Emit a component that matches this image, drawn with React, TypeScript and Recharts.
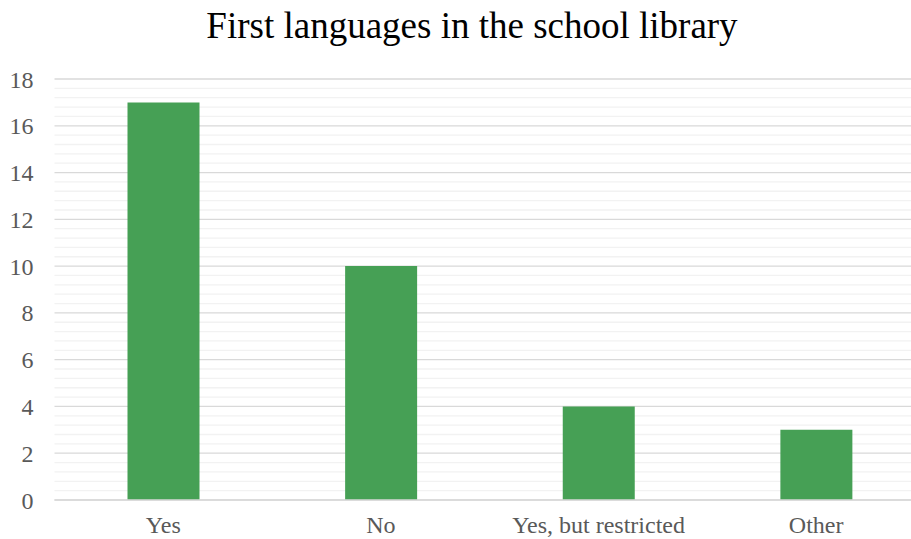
import React from "react";
import { BarChart, Bar, XAxis, YAxis, CartesianGrid } from "recharts";

const categories = ["Yes", "No", "Yes, but restricted", "Other"];
const counts = [17, 10, 4, 3];
const majorTicks = [0, 2, 4, 6, 8, 10, 12, 14, 16, 18];
const minorTicks = [
  0.4, 0.8, 1.2, 1.6, 2.4, 2.8, 3.2, 3.6, 4.4, 4.8, 5.2, 5.6, 6.4, 6.8, 7.2, 7.6,
  8.4, 8.8, 9.2, 9.6, 10.4, 10.8, 11.2, 11.6, 12.4, 12.8, 13.2, 13.6, 14.4, 14.8,
  15.2, 15.6, 16.4, 16.8, 17.2, 17.6,
];
const title = "First languages in the school library";

const data = categories.map((c, i) => ({ name: c, value: counts[i] }));

const font = "'Liberation Serif', 'Times New Roman', serif";

export default function App() {
  return (
    <div
      style={{
        position: "absolute",
        left: 0,
        top: 0,
        width: 911,
        height: 539,
        overflow: "hidden",
        background: "#fff",
        fontFamily: font,
      }}
    >
      <BarChart
        width={925}
        height={539}
        data={data}
        margin={{ top: 79, right: 0, bottom: 0, left: 0 }}
        barSize={72}
      >
        <text
          x={472}
          y={38}
          textAnchor="middle"
          fontSize={37}
          fontFamily={font}
          fill="#000"
        >
          {title}
        </text>
        <CartesianGrid
          vertical={false}
          horizontalValues={minorTicks}
          stroke="#f2f2f2"
          strokeWidth={1.3}
        />
        <CartesianGrid
          vertical={false}
          horizontalValues={majorTicks}
          stroke="#d9d9d9"
          strokeWidth={1.3}
        />
        <XAxis
          dataKey="name"
          height={39}
          tickLine={false}
          tickSize={0}
          tickMargin={16}
          axisLine={{ stroke: "#d9d9d9", strokeWidth: 1.3 }}
          tick={{ fill: "#595959", fontSize: 24, fontFamily: font }}
          interval={0}
        />
        <YAxis
          width={54.5}
          domain={[0, 18]}
          ticks={majorTicks}
          tickLine={false}
          tickSize={0}
          tickMargin={21}
          axisLine={false}
          tick={{ fill: "#595959", fontSize: 24, fontFamily: font }}
          interval={0}
        />
        <Bar dataKey="value" fill="#46a055" isAnimationActive={false} />
      </BarChart>
    </div>
  );
}
